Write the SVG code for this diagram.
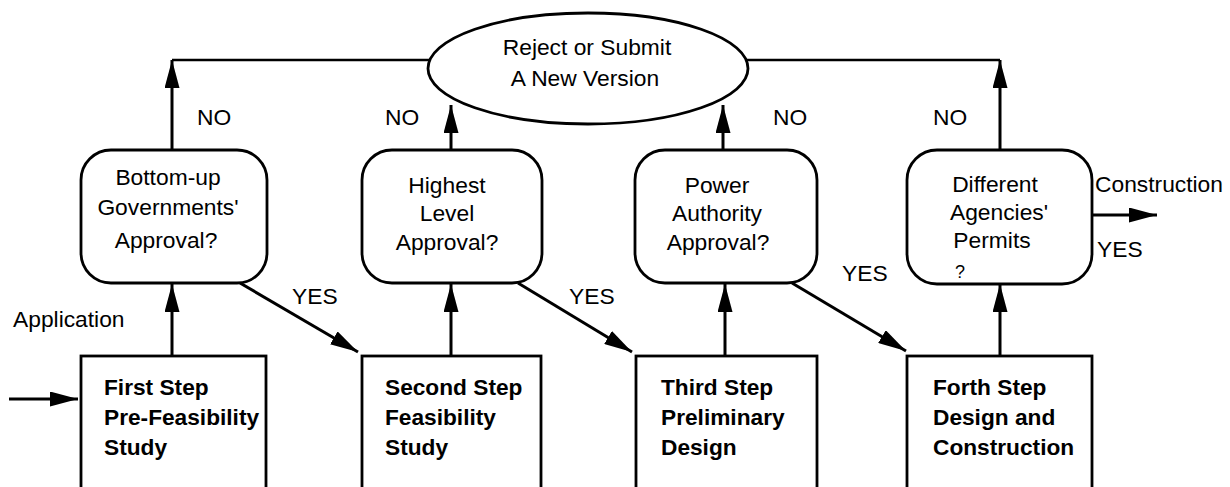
<svg xmlns="http://www.w3.org/2000/svg" width="1230" height="487" viewBox="0 0 1230 487">
<style>
.t{font-family:"Liberation Sans",Arial,sans-serif;font-size:22.8px;fill:#000}
.b{font-family:"Liberation Sans",Arial,sans-serif;font-size:22.7px;font-weight:bold;fill:#000}
.m{text-anchor:middle}
.box{fill:#fff;stroke:#000;stroke-width:2.8}
.ln{fill:none;stroke:#000;stroke-width:2.6}
.ar{fill:none;stroke:#000;stroke-width:3;marker-end:url(#ah)}
</style>
<defs>
<marker id="ah" viewBox="0 0 28 15" refX="28" refY="7.5" markerWidth="28" markerHeight="15" markerUnits="userSpaceOnUse" orient="auto">
<path d="M0,0 L28,7.5 L0,15 Z" fill="#000"/>
</marker>
</defs>
<rect width="1230" height="487" fill="#fff"/>
<g id="connectors">
<line class="ln" x1="172" y1="60" x2="1000" y2="60"/>
<line class="ar" x1="172" y1="150" x2="172" y2="60"/>
<line class="ar" x1="1000" y1="150" x2="1000" y2="60"/>
<line class="ar" x1="451" y1="150" x2="451" y2="105"/>
<line class="ar" x1="723" y1="150" x2="723" y2="105"/>
<line class="ar" x1="172" y1="356" x2="172" y2="284"/>
<line class="ar" x1="451" y1="356" x2="451" y2="284"/>
<line class="ar" x1="725" y1="356" x2="725" y2="284"/>
<line class="ar" x1="1000" y1="356" x2="1000" y2="284"/>
<line class="ar" x1="240" y1="283" x2="358" y2="352"/>
<line class="ar" x1="518" y1="283" x2="632" y2="352"/>
<line class="ar" x1="792" y1="283" x2="906" y2="351"/>
<line class="ar" x1="9" y1="399" x2="78" y2="399"/>
<line class="ar" x1="1093" y1="215" x2="1157" y2="215"/>
<text class="t" x="197" y="125">NO</text>
<text class="t" x="385" y="125">NO</text>
<text class="t" x="773" y="125">NO</text>
<text class="t" x="933" y="125">NO</text>
<text class="t" x="292" y="304">YES</text>
<text class="t" x="569" y="304">YES</text>
<text class="t" x="842" y="281">YES</text>
<text class="t" x="1097" y="257">YES</text>
<text class="t" x="13" y="327">Application</text>
<text class="t" x="1095" y="192">Construction</text>
</g>
<g id="reject">
<ellipse class="box" cx="588" cy="68.5" rx="160" ry="55.5"/>
<text class="t m" x="587" y="55">Reject or Submit</text>
<text class="t m" x="585" y="86">A New Version</text>
</g>
<g id="d1">
<rect class="box" x="81" y="150" width="186" height="133" rx="30" ry="30"/>
<text class="t m" x="168" y="185">Bottom-up</text>
<text class="t m" x="168" y="215">Governments'</text>
<text class="t m" x="166" y="248">Approval?</text>
</g>
<g id="d2">
<rect class="box" x="362" y="150" width="180" height="133" rx="30" ry="30"/>
<text class="t m" x="447" y="193">Highest</text>
<text class="t m" x="447" y="221">Level</text>
<text class="t m" x="447" y="250">Approval?</text>
</g>
<g id="d3">
<rect class="box" x="635" y="150" width="182" height="133" rx="30" ry="30"/>
<text class="t m" x="717" y="193">Power</text>
<text class="t m" x="717" y="221">Authority</text>
<text class="t m" x="718" y="250">Approval?</text>
</g>
<g id="d4">
<rect class="box" x="907" y="150" width="185" height="134" rx="30" ry="30"/>
<text class="t m" x="995" y="192">Different</text>
<text class="t m" x="999" y="220">Agencies'</text>
<text class="t m" x="992" y="248">Permits</text>
<text class="t" x="955" y="278" style="font-size:18px">?</text>
</g>
<g id="s1">
<rect class="box" x="81" y="356" width="185" height="150"/>
<text class="b" x="104" y="395">First Step</text>
<text class="b" x="104" y="425">Pre-Feasibility</text>
<text class="b" x="104" y="455">Study</text>
</g>
<g id="s2">
<rect class="box" x="362" y="356" width="179" height="150"/>
<text class="b" x="385" y="395">Second Step</text>
<text class="b" x="385" y="425">Feasibility</text>
<text class="b" x="385" y="455">Study</text>
</g>
<g id="s3">
<rect class="box" x="636" y="356" width="181" height="150"/>
<text class="b" x="661" y="395">Third Step</text>
<text class="b" x="661" y="425">Preliminary</text>
<text class="b" x="661" y="455">Design</text>
</g>
<g id="s4">
<rect class="box" x="907" y="356" width="185" height="150"/>
<text class="b" x="933" y="395">Forth Step</text>
<text class="b" x="933" y="425">Design and</text>
<text class="b" x="933" y="455">Construction</text>
</g>
</svg>
